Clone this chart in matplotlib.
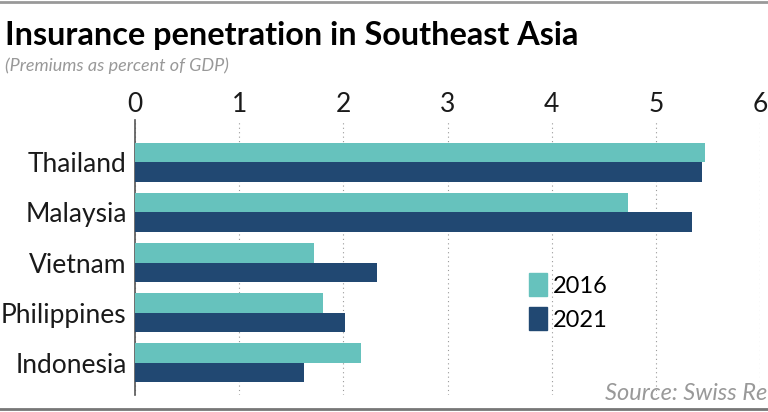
import numpy as np
from matplotlib import pyplot as plt
from matplotlib.lines import Line2D
from matplotlib.patches import Patch

countries = ["Thailand", "Malaysia", "Vietnam", "Philippines", "Indonesia"]
v2016 = [5.47, 4.73, 1.72, 1.80, 2.17]
v2021 = [5.44, 5.35, 2.32, 2.02, 1.62]
xticks = [0, 1, 2, 3, 4, 5, 6]

teal = "#66C2BD"
navy = "#214872"

plt.rcParams['font.family'] = ['Lato', 'DejaVu Sans']

fig = plt.figure(figsize=(7.68, 4.12), dpi=100)
ax = fig.add_axes([135/768, 17/412, 625/768, 275/412])

y = np.arange(len(countries))
h = 0.39
ax.barh(y - h/2, v2016, height=h, color=teal, zorder=3)
ax.barh(y + h/2, v2021, height=h, color=navy, zorder=3)

ax.set_xlim(0, 6)
ax.set_ylim(4.64, -0.84)
ax.set_xticks(xticks)
ax.set_xticklabels([str(t) for t in xticks], fontsize=19, color='#1a1a1a')
ax.xaxis.tick_top()
ax.tick_params(axis='x', length=0, pad=2)
ax.set_yticks(y)
ax.set_yticklabels(countries, fontsize=19, color='#1a1a1a')
ax.tick_params(axis='y', length=0, pad=6)

ax.grid(axis='x', linestyle=(0, (1, 3)), color='#999999', linewidth=0.8, zorder=0)
for s in ['top', 'right', 'bottom']:
    ax.spines[s].set_visible(False)
ax.spines['left'].set_color('#555555')
ax.spines['left'].set_linewidth(1.2)

handles = [Patch(color=teal, label="2016"), Patch(color=navy, label="2021")]
ax.legend(handles=handles, loc='upper left', bbox_to_anchor=(0.597, 0.52), frameon=False,
          handlelength=0.75, handleheight=1.1, handletextpad=0.25,
          labelspacing=0.45, prop={'size': 17})

fig.text(0.006, 0.891, "Insurance penetration in Southeast Asia", fontsize=23.3,
         fontweight='bold', color='black', va='baseline')
fig.text(0.006, 0.827, "(Premiums as percent of GDP)", fontsize=13,
         style='italic', color='#999999', va='baseline')
fig.text(0.999, 0.03, "Source: Swiss Re", fontsize=17, style='italic',
         color='#999999', ha='right', va='baseline')

fig.add_artist(Line2D([0, 1], [0.995, 0.995], color='#999999', linewidth=2))
fig.add_artist(Line2D([0, 1], [0.007, 0.007], color='#777777', linewidth=2))

fig.savefig("out.png", dpi=100)
